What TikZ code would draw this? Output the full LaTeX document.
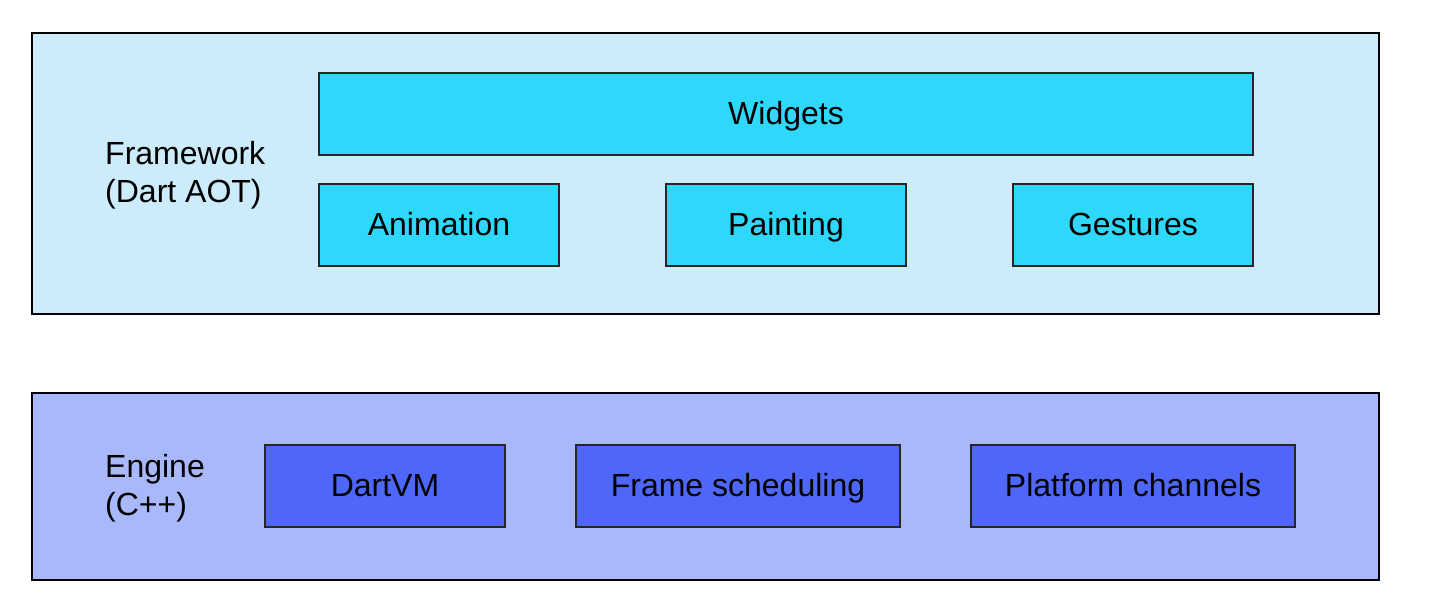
\documentclass[tikz,border=0pt]{standalone}
\usepackage{fontspec}
\setmainfont{Liberation Sans}
\definecolor{fwbg}{HTML}{CCEBFB}
\definecolor{fwbox}{HTML}{2ED8FB}
\definecolor{enbg}{HTML}{A9B8FB}
\definecolor{enbox}{HTML}{4E67F9}
\begin{document}
\begin{tikzpicture}[x=1pt,y=-1pt,
  layer/.style={draw=black,line width=2pt},
  comp/.style={draw=black!85,line width=1.4pt,font=\fontsize{32}{36}\selectfont,text height=23pt,text depth=3pt,inner sep=0pt},
  lbl/.style={align=left,anchor=west,font=\fontsize{32}{38}\selectfont,inner sep=0pt}]
\useasboundingbox (0,0) rectangle (1440,614);
\fill[white] (0,0) rectangle (1440,614);
% Framework layer
\draw[layer,fill=fwbg] (32,33) rectangle (1379,314);
\node[lbl] (fwl) at (105,175) {Framework\\(Dart AOT)};
\draw[comp,fill=fwbox] (319,73) rectangle node (widgets) {Widgets} (1253,155);
\draw[comp,fill=fwbox] (319,184) rectangle node (anim) {Animation} (559,266);
\draw[comp,fill=fwbox] (666,184) rectangle node (paint) {Painting} (906,266);
\draw[comp,fill=fwbox] (1013,184) rectangle node (gest) {Gestures} (1253,266);
% Engine layer
\draw[layer,fill=enbg] (32,393) rectangle (1379,580);
\node[lbl] (enl) at (105,488) {Engine\\(C++)};
\draw[comp,fill=enbox] (265,445) rectangle node (dvm) {DartVM} (505,527);
\draw[comp,fill=enbox] (576,445) rectangle node (frs) {Frame scheduling} (900,527);
\draw[comp,fill=enbox] (971,445) rectangle node (plc) {Platform channels} (1295,527);
\end{tikzpicture}
\end{document}
